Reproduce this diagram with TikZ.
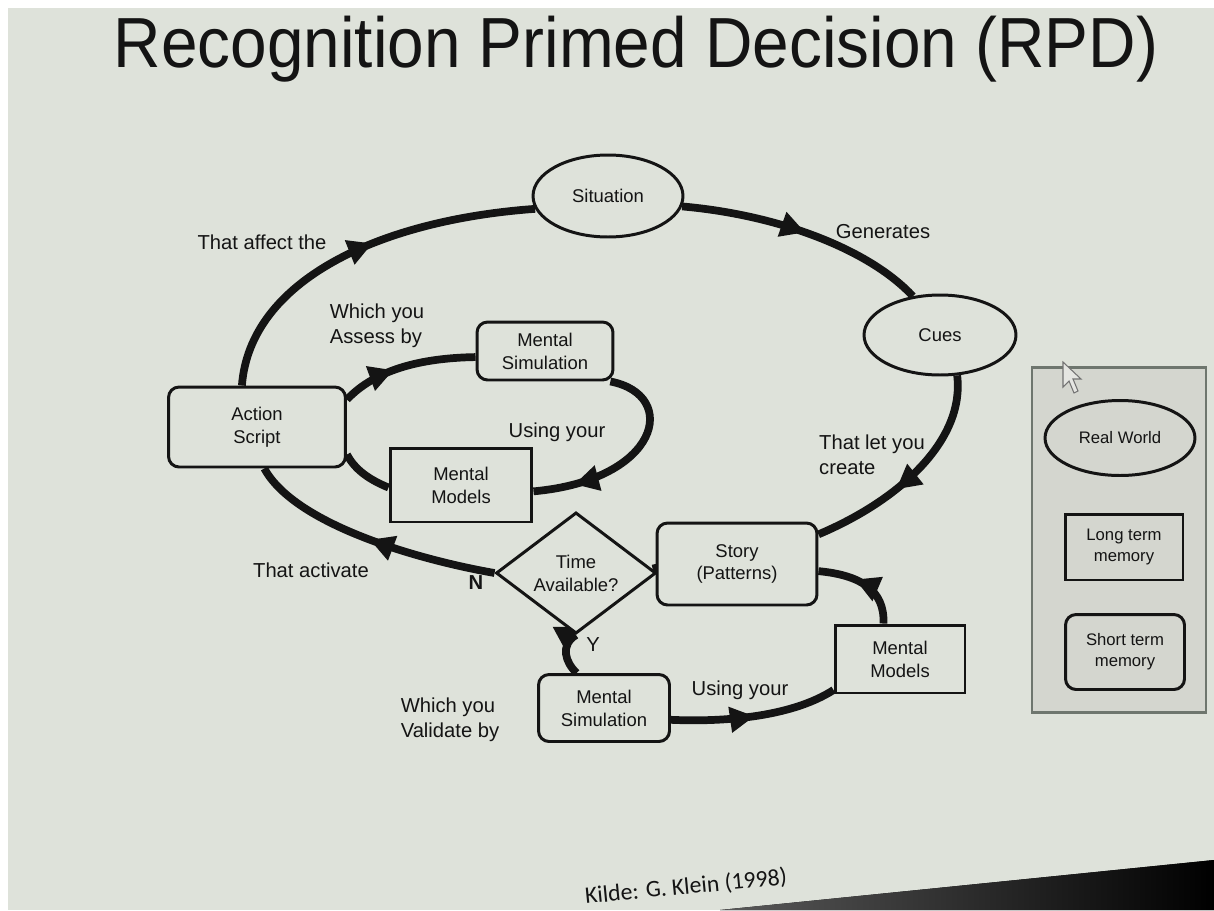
\documentclass[tikz,border=0pt]{standalone}
\usepackage{fontspec}
\setmainfont{Liberation Sans}
\newfontfamily\calib{Carlito}
\usetikzlibrary{arrows.meta,decorations.markings,shapes.geometric}
\pgfdeclarelayer{bglayer}
\pgfdeclarelayer{connlayer}
\pgfsetlayers{bglayer,connlayer,main}
\definecolor{screen}{RGB}{222,226,218}
\definecolor{legendbg}{RGB}{212,214,207}
\definecolor{legendframe}{RGB}{110,118,110}
\definecolor{ink}{RGB}{20,20,20}
\begin{document}
\begin{tikzpicture}[x=0.02cm,y=-0.02cm,
  every node/.style={text=ink},
  sqbox/.style={draw=ink, line width=1.7pt, fill=screen, align=center, font=\fontsize{10.5}{13}\selectfont, inner sep=0pt},
  rbox/.style={sqbox, rounded corners=6pt},
  oval/.style={sqbox, ellipse},
  legfont/.style={font=\fontsize{9.5}{12}\selectfont},
  lbl/.style={font=\fontsize{11.5}{14.5}\selectfont, align=left, inner sep=0pt},
  conn/.style={draw=ink, line width=4.4pt},
  midarrow/.style={postaction={decorate}, decoration={markings, mark=at position #1 with {\arrow{Triangle[length=14pt,width=14pt]}}}},
]
\begin{pgfonlayer}{bglayer}
\fill[white] (0,0) rectangle (1214,910);
\fill[screen] (8,8) rectangle (1214,910);
\fill[left color=black!65, right color=black] (720,910) -- (1214,860) -- (1214,910) -- cycle;
\end{pgfonlayer}
\useasboundingbox (0,0) rectangle (1214,910);

% title and source
\node[font=\fontsize{37.4}{40}\selectfont, anchor=base, inner sep=0pt, yscale=1.08] (title) at (636,67) {Recognition Primed Decision (RPD)};
\node[font=\calib\fontsize{13.5}{16}\selectfont, rotate=5.5, inner sep=0pt] (src) at (686,887) {Kilde: G. Klein (1998)};

% main nodes
\node[oval, minimum width=3cm, minimum height=1.64cm] (sit) at (608,196) {Situation};
\node[oval, minimum width=3.04cm, minimum height=1.6cm] (cues) at (940,335) {Cues};
\node[rbox, minimum width=3.54cm, minimum height=1.6cm] (as) at (257,427) {Action\\Script};
\node[rbox, minimum width=2.72cm, minimum height=1.16cm] (ms1) at (545,351) {Mental\\Simulation};
\node[sqbox, minimum width=2.84cm, minimum height=1.48cm] (mm1) at (461,485) {Mental\\Models};
\node[sqbox, diamond, minimum width=3.2cm, minimum height=1.96cm] (time) at (576,573) {Time\\Available?};
\node[rbox, minimum width=3.2cm, minimum height=1.64cm] (story) at (737,564) {Story\\(Patterns)};
\node[sqbox, minimum width=2.6cm, minimum height=1.36cm] (mm2) at (900,659) {Mental\\Models};
\node[rbox, minimum width=2.62cm, minimum height=1.34cm] (ms2) at (604,708) {Mental\\Simulation};

% labels
\node[lbl] (l1) at (262,242) {That affect the};
\node[lbl] (l2) at (377,326) {Which you\\Assess by};
\node[lbl] (l3) at (557,432) {Using your};
\node[lbl] (l4) at (883,232) {Generates};
\node[lbl] (l5) at (872,455) {That let you\\create};
\node[lbl] (l6) at (311,570) {That activate};
\node[lbl, font=\bfseries\fontsize{11.5}{14}\selectfont] (ln) at (476,583) {N};
\node[lbl] (ly) at (593,645) {Y};
\node[lbl] (l7) at (450,720) {Which you\\Validate by};
\node[lbl] (l8) at (740,690) {Using your};

% legend
\node[draw=legendframe, line width=1.2pt, fill=legendbg, minimum width=3.48cm, minimum height=6.9cm, inner sep=0pt] (legend) at (1119,540) {};
\node[oval, legfont, fill=legendbg, minimum width=3cm, minimum height=1.5cm] (rw) at (1120,438) {Real World};
\node[sqbox, legfont, fill=legendbg, minimum width=2.36cm, minimum height=1.32cm] (ltm) at (1124,547) {Long term\\memory};
\node[rbox, legfont, fill=legendbg, minimum width=2.38cm, minimum height=1.5cm] (stm) at (1125,652) {Short term\\memory};
% mouse pointer
\draw[black!55, line width=0.6pt, fill=legendbg!60!white] (1063,362) -- (1063,387) -- (1069,381) -- (1074,393) -- (1078,391) -- (1073,379) -- (1081,379) -- cycle;

% connectors
\begin{pgfonlayer}{connlayer}
\draw[conn, midarrow=0.55] (as.110) .. controls (250,280) and (380,220) .. (sit.190);
\draw[conn, midarrow=0.5] (sit.352) .. controls (780,215) and (870,250) .. (cues.125);
\draw[conn, midarrow=0.6] (cues.293) .. controls (965,440) and (900,500) .. (story.20);
\draw[conn] (story.west) -- (time.east);
\draw[conn, midarrow=0.5] (time.west) .. controls (420,560) and (295,525) .. (as.280);
\draw[conn, midarrow=0.45] (time.south) .. controls (560,645) and (565,662) .. (ms2.128);
\draw[conn, midarrow=0.5] (ms2.350) .. controls (720,722) and (790,718) .. (mm2.205);
\draw[conn, midarrow=0.6] (mm2.115) .. controls (885,590) and (860,575) .. (story.355);
\draw[conn, midarrow=0.4] (as.17) .. controls (375,370) and (420,358) .. (ms1.185);
\draw[conn, midarrow=0.8] (ms1.335) .. controls (680,395) and (660,480) .. (mm1.355);
\draw[conn] (mm1.182) .. controls (370,480) and (355,470) .. (as.343);
\end{pgfonlayer}
\end{tikzpicture}
\end{document}
